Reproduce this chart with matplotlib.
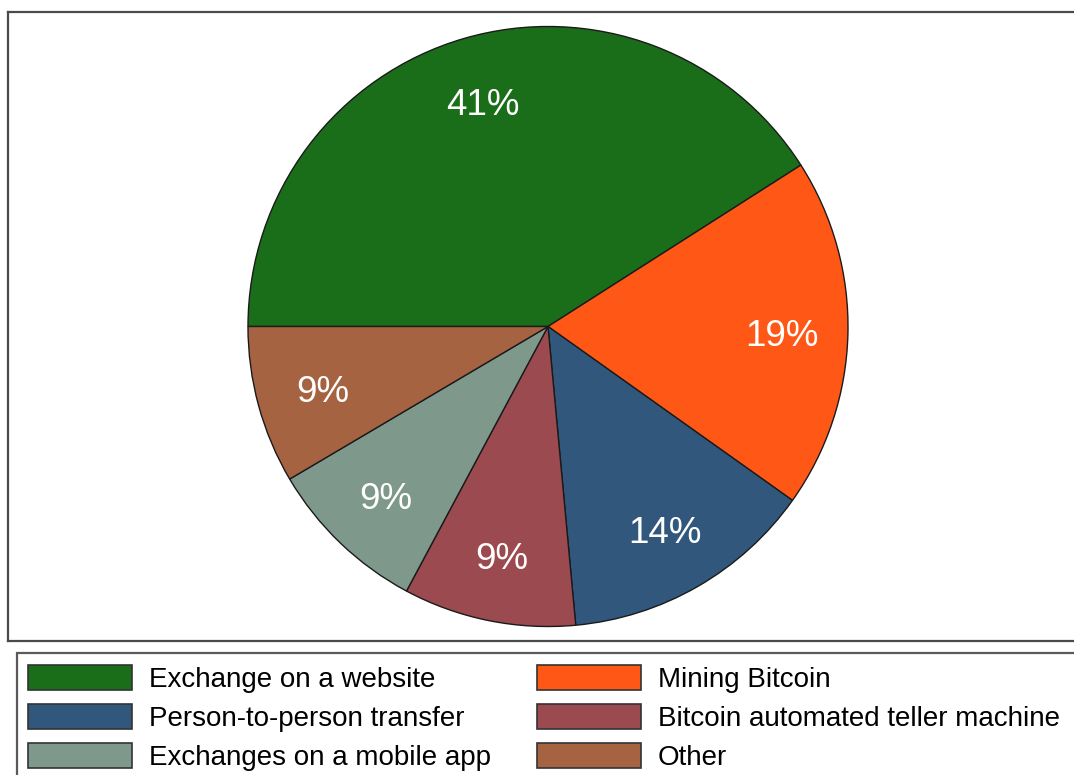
import numpy as np
import matplotlib
matplotlib.use("Agg")
import matplotlib.pyplot as plt
from matplotlib.patches import Rectangle, Patch

plt.rcParams['font.family'] = ['Liberation Sans', 'DejaVu Sans']

labels = ['Exchange on a website', 'Mining Bitcoin', 'Person-to-person transfer',
          'Bitcoin automated teller machine', 'Exchanges on a mobile app', 'Other']
shares = [41.0, 18.9, 13.7, 9.3, 8.7, 8.5]
pct_labels = ['41%', '19%', '14%', '9%', '9%', '9%']
colors = ['#1a6e1a', '#ff5816', '#32577c', '#9b4a50', '#7f988c', '#a66342']

W, H = 1074, 775
fig = plt.figure(figsize=(W / 100, H / 100), dpi=100)

# plot region (frame runs off the right edge like the original)
ax = fig.add_axes([8 / W, 1 - 641 / H, 1080 / W, 629 / H])
wedges, _ = ax.pie(shares, colors=colors, startangle=180, counterclock=False,
                   radius=1.0, wedgeprops=dict(edgecolor='#1a1a1a', linewidth=1.0))
r_px = 300.0
ax.set_xlim(-540 / r_px, 540 / r_px)
ax.set_ylim(-314.5 / r_px, 314.5 / r_px)
ax.set_aspect('equal')
for w, t in zip(wedges, pct_labels):
    ang = np.deg2rad((w.theta1 + w.theta2) / 2)
    ax.text(0.78 * np.cos(ang), 0.78 * np.sin(ang), t, ha='center',
            va='center_baseline', color='white', fontsize=26.5)
ax.set_frame_on(True)
for s in ax.spines.values():
    s.set_visible(True)
    s.set_edgecolor('#4a4a4a')
    s.set_linewidth(1.6)
ax.set_xticks([])
ax.set_yticks([])

# legend box
fig.patches.append(Rectangle((17 / W, -0.05), 1.1, (1 - 653 / H) + 0.05,
                             transform=fig.transFigure, facecolor='white',
                             edgecolor='#5a5a5a', linewidth=1.6))

handles = [Patch(facecolor=c, edgecolor='#333333', linewidth=1.2) for c in colors]
kw = dict(loc='upper left', frameon=False, fontsize=20, handlelength=3.73,
          handleheight=0.98, handletextpad=0.62, labelspacing=0.41,
          borderpad=0, borderaxespad=0)
col1 = [0, 2, 4]
col2 = [1, 3, 5]
fig.legend([handles[i] for i in col1], [labels[i] for i in col1],
           bbox_to_anchor=(28 / W, 1 - 665 / H), **kw)
fig.legend([handles[i] for i in col2], [labels[i] for i in col2],
           bbox_to_anchor=(537 / W, 1 - 665 / H), **kw)

fig.savefig('out.png', dpi=100)
